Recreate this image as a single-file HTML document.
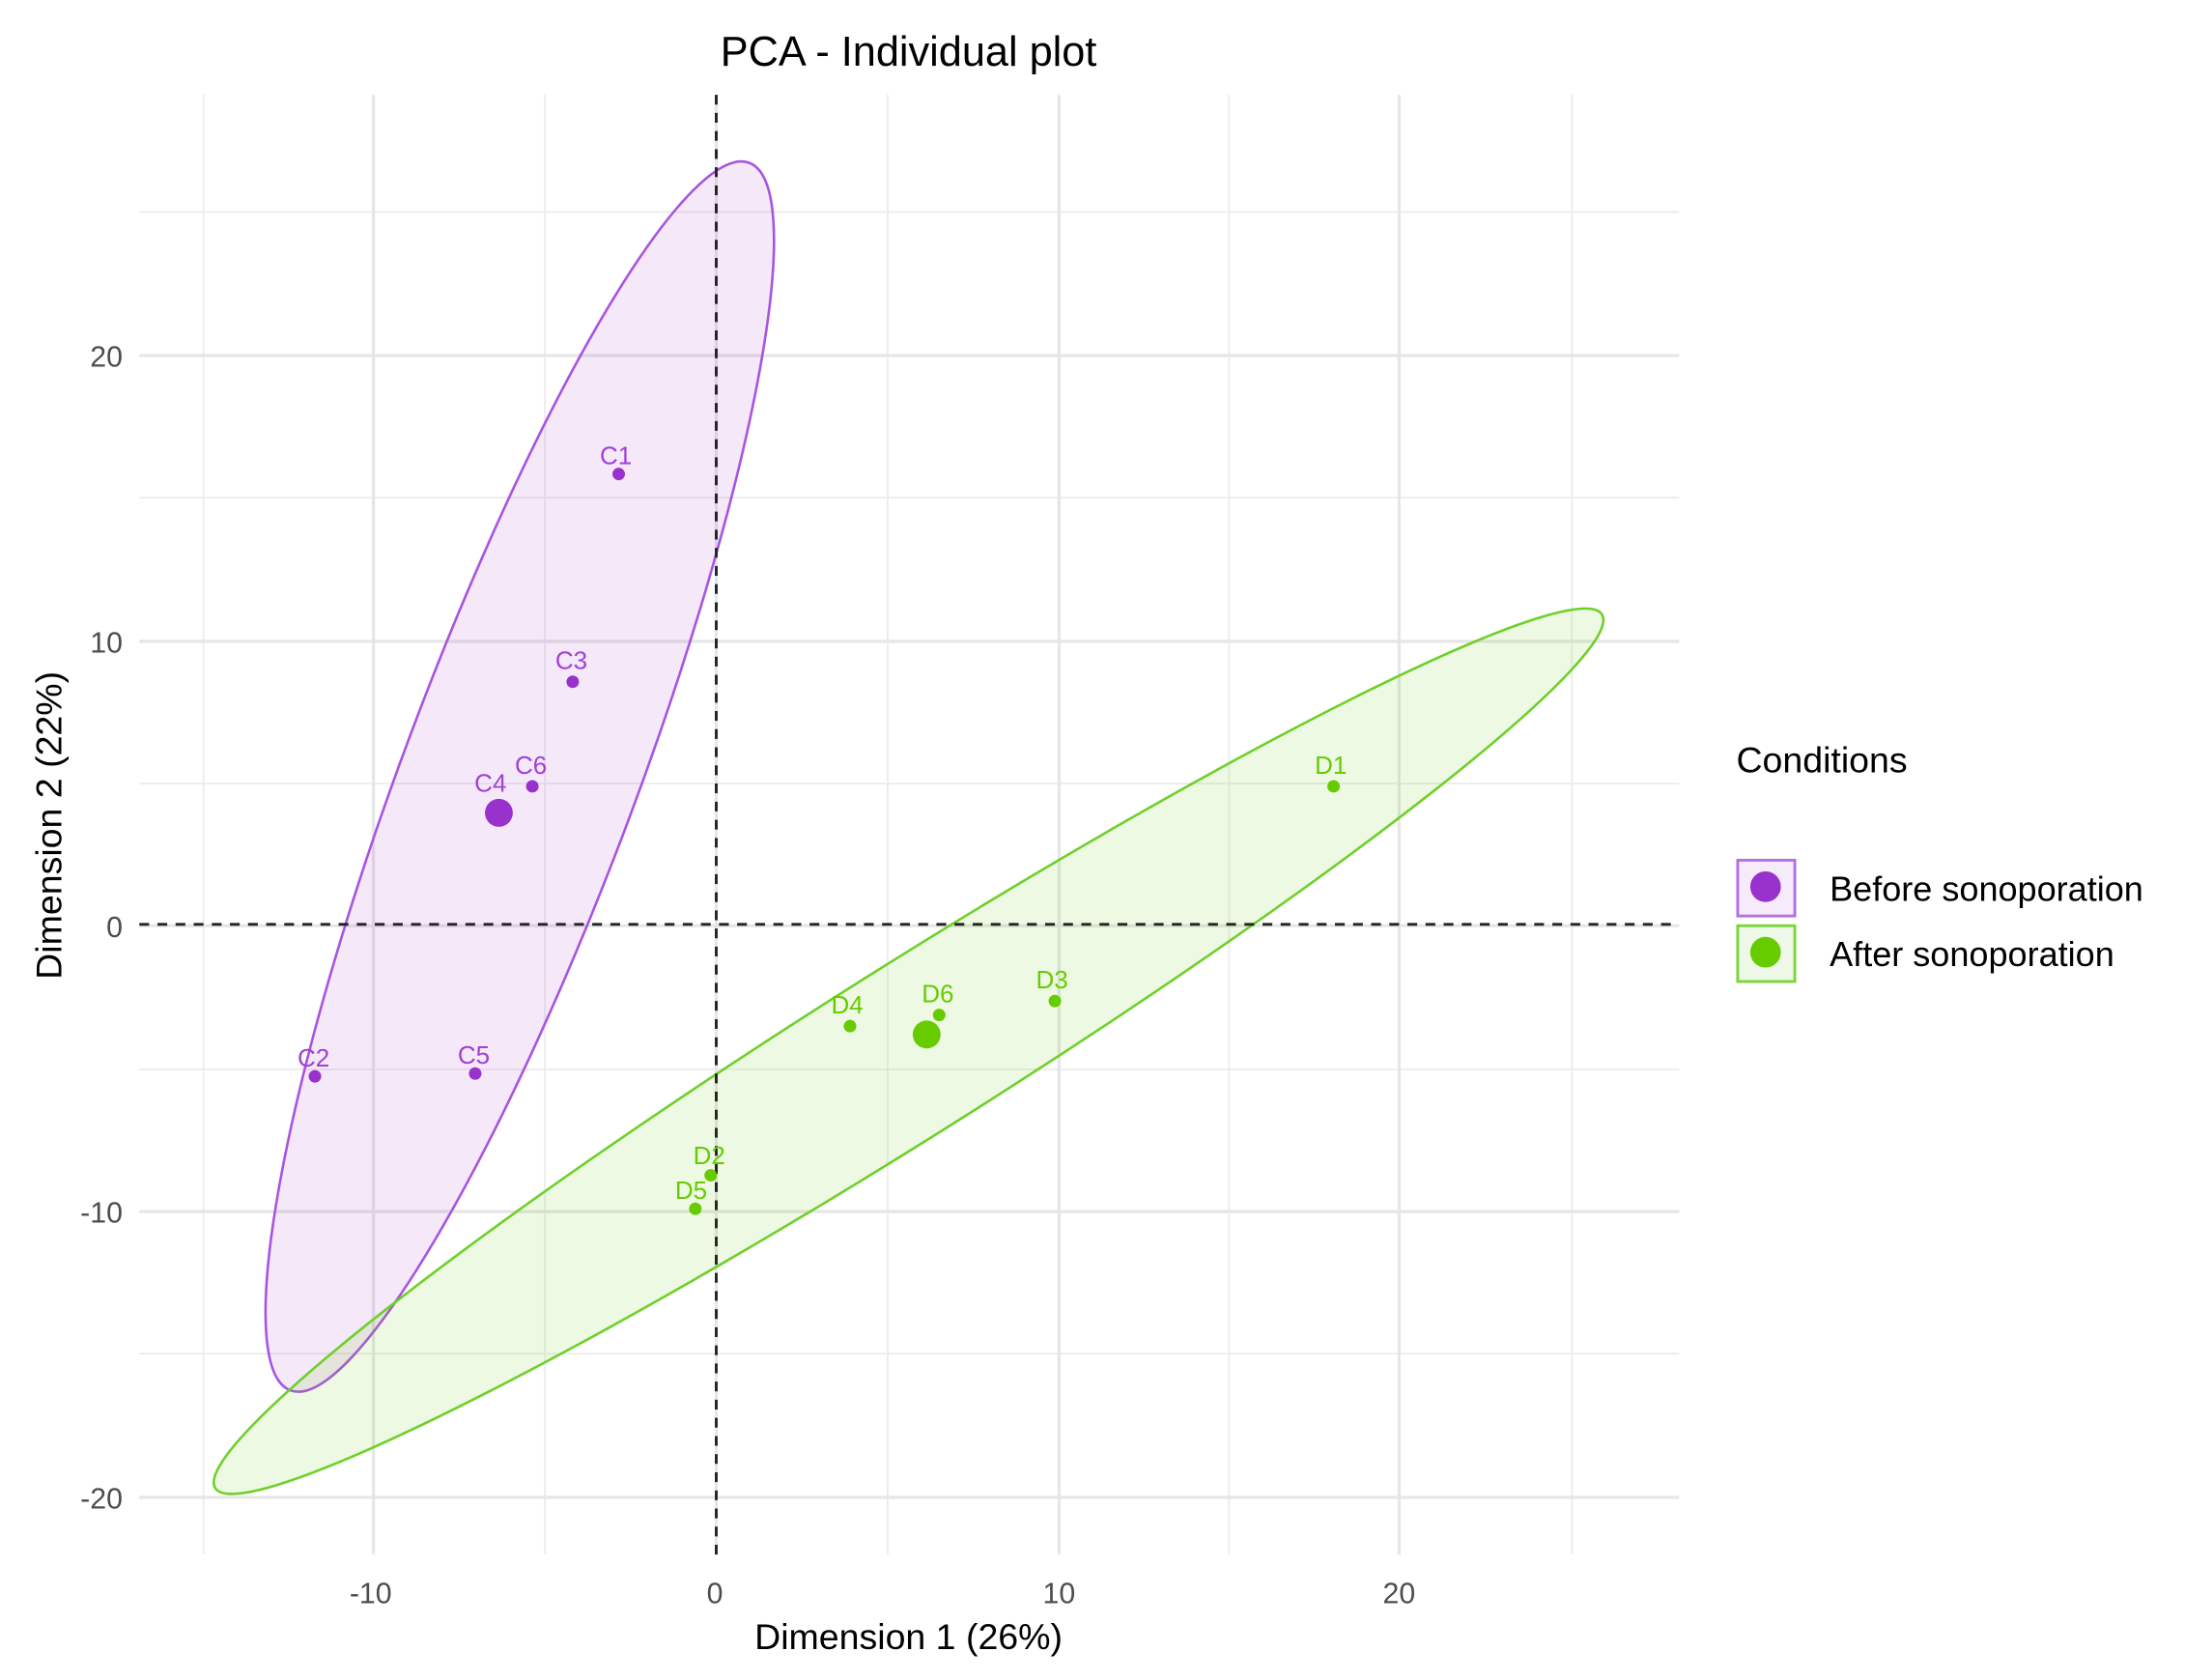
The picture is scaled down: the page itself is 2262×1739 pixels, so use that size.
<!DOCTYPE html>
<html><head><style>html,body{margin:0;padding:0;background:#fff}svg{display:block}</style></head>
<body>
<svg width="2262" height="1739" viewBox="0 0 1568 1205" preserveAspectRatio="none" xmlns="http://www.w3.org/2000/svg" font-family="Liberation Sans, sans-serif">
<rect width="1568" height="1205" fill="#fff"/>
<g stroke="#ebebeb" stroke-width="1.2">
<line x1="146" y1="68" x2="146" y2="1115"/><line x1="391" y1="68" x2="391" y2="1115"/><line x1="637" y1="68" x2="637" y2="1115"/><line x1="882" y1="68" x2="882" y2="1115"/><line x1="1128" y1="68" x2="1128" y2="1115"/>
<line x1="100" y1="152" x2="1205" y2="152"/><line x1="100" y1="357" x2="1205" y2="357"/><line x1="100" y1="562" x2="1205" y2="562"/><line x1="100" y1="767" x2="1205" y2="767"/><line x1="100" y1="971" x2="1205" y2="971"/>
</g>
<g stroke="#e6e6e6" stroke-width="2.2">
<line x1="268" y1="68" x2="268" y2="1115"/><line x1="514" y1="68" x2="514" y2="1115"/><line x1="760" y1="68" x2="760" y2="1115"/><line x1="1004" y1="68" x2="1004" y2="1115"/>
<line x1="100" y1="255" x2="1205" y2="255"/><line x1="100" y1="460" x2="1205" y2="460"/><line x1="100" y1="664" x2="1205" y2="664"/><line x1="100" y1="869" x2="1205" y2="869"/><line x1="100" y1="1074" x2="1205" y2="1074"/>
</g>
<ellipse cx="373" cy="557" rx="470" ry="84" transform="rotate(-69.5 373 557)" fill="rgba(153,50,204,0.11)" stroke="#a755e0" stroke-width="1.8"/>
<ellipse cx="652" cy="754" rx="588" ry="61" transform="rotate(-32.2 652 754)" fill="rgba(102,204,0,0.11)" stroke="#6fd02a" stroke-width="1.8"/>
<line x1="514" y1="68" x2="514" y2="1115" stroke="#222" stroke-width="2" stroke-dasharray="7,6"/>
<line x1="100" y1="663" x2="1205" y2="663" stroke="#222" stroke-width="2" stroke-dasharray="7,6"/>
<g fill="#9932cc"><circle cx="444" cy="340" r="4.5"/><circle cx="411" cy="489" r="4.5"/><circle cx="382" cy="564" r="4.5"/><circle cx="358" cy="583" r="10"/><circle cx="226" cy="772" r="4.5"/><circle cx="341" cy="770" r="4.5"/></g>
<g fill="#a040d8" font-size="18" text-anchor="middle"><text x="442" y="333">C1</text><text x="410" y="480">C3</text><text x="381" y="555">C6</text><text x="352" y="568">C4</text><text x="225" y="765">C2</text><text x="340" y="763">C5</text></g>
<g fill="#66cc00"><circle cx="957" cy="564" r="4.5"/><circle cx="757" cy="718" r="4.5"/><circle cx="674" cy="728" r="4.5"/><circle cx="610" cy="736" r="4.5"/><circle cx="665" cy="742" r="10"/><circle cx="510" cy="843" r="4.5"/><circle cx="499" cy="867" r="4.5"/></g>
<g fill="#66cc00" font-size="18" text-anchor="middle"><text x="955" y="555">D1</text><text x="755" y="709">D3</text><text x="673" y="719">D6</text><text x="608" y="727">D4</text><text x="509" y="835">D2</text><text x="496" y="860">D5</text></g>
<g fill="#4d4d4d" font-size="21" text-anchor="end"><text x="88" y="263">20</text><text x="88" y="468">10</text><text x="88" y="672">0</text><text x="88" y="877">-10</text><text x="88" y="1082">-20</text></g>
<g fill="#4d4d4d" font-size="21" text-anchor="middle"><text x="266" y="1150">-10</text><text x="513" y="1150">0</text><text x="760" y="1150">10</text><text x="1004" y="1150">20</text></g>
<text x="652" y="47" font-size="30" text-anchor="middle" fill="#000">PCA - Individual plot</text>
<text x="652" y="1183" font-size="26" text-anchor="middle" fill="#000">Dimension 1 (26%)</text>
<text transform="translate(44 592) rotate(-90)" font-size="26" text-anchor="middle" fill="#000">Dimension 2 (22%)</text>
<text x="1246" y="554" font-size="26" fill="#000">Conditions</text>
<rect x="1247" y="617" width="41" height="40" fill="#f5ebfb" stroke="#b66ee6" stroke-width="2"/>
<circle cx="1267" cy="636" r="11" fill="#9932cc"/>
<rect x="1247" y="664" width="41" height="40" fill="#eef8e6" stroke="#7ad63a" stroke-width="2"/>
<circle cx="1267" cy="683" r="11" fill="#66cc00"/>
<text x="1313" y="646" font-size="25" fill="#000">Before sonoporation</text>
<text x="1313" y="693" font-size="25" fill="#000">After sonoporation</text>
</svg>
</body></html>
